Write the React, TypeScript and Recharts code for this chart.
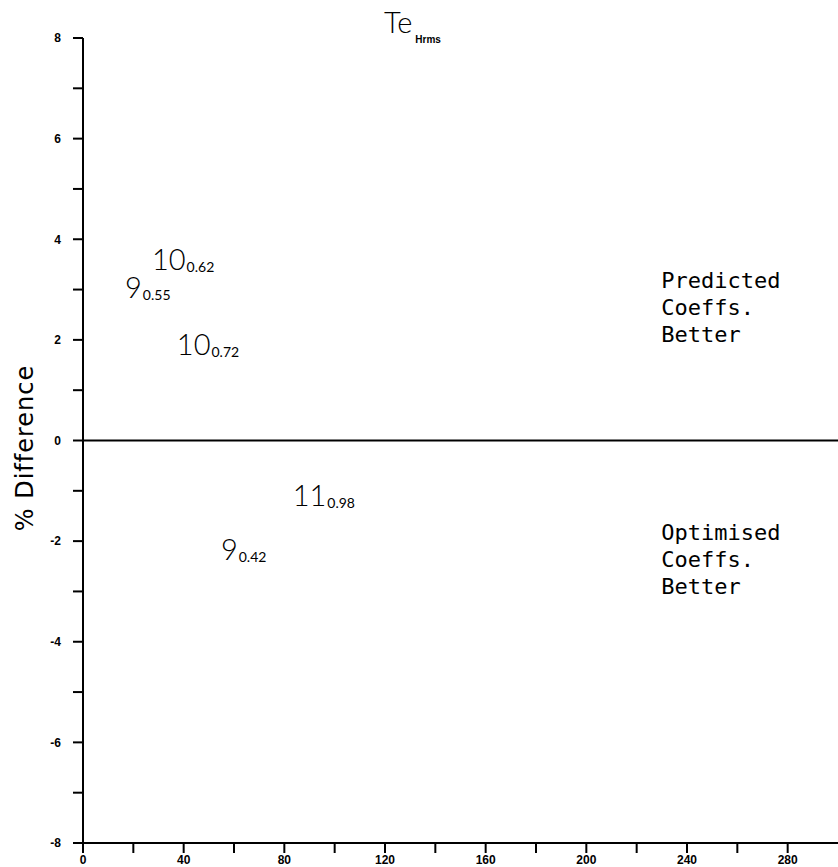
import { ScatterChart, Scatter, XAxis, YAxis, ReferenceLine } from "recharts";

// run labels with rho subscript, placed at their (x, % difference) position
const runNames = ["10", "9", "10", "11", "9"];
const rhoNames = ["0.62", "0.55", "0.72", "0.98", "0.42"];
const runX = [27.4, 16.7, 37.3, 83.3, 54.8];
const runY = [3.39, 2.83, 1.7, -1.31, -2.37];

// region notes
const noteLines = [
  ["Predicted", "Coeffs.", "Better"],
  ["Optimised", "Coeffs.", "Better"],
];
const noteX = [229.8, 229.8];
const noteY = [3.03, -1.98];

const xTicks = [0, 20, 40, 60, 80, 100, 120, 140, 160, 180, 200, 220, 240, 260, 280];
const yTicks = [-8, -7, -6, -5, -4, -3, -2, -1, 0, 1, 2, 3, 4, 5, 6, 7, 8];

const runs = runNames.map((n, i) => ({ x: runX[i], y: runY[i], name: n, sub: rhoNames[i] }));
const notes = noteLines.map((l, i) => ({ x: noteX[i], y: noteY[i], lines: l }));

const tickFont = { fontFamily: "'Liberation Sans', Arial, sans-serif", fontWeight: 700, fontSize: 12, fill: "#000" };

function RunLabel(props: any) {
  const { cx, cy, payload } = props;
  return (
    <text x={cx} y={cy} fill="#000" style={{ fontFamily: "Lato, sans-serif", fontWeight: 300 }}>
      <tspan fontSize={29}>{payload.name}</tspan>
      <tspan fontSize={14} fontWeight={400} dx={1} dy={2}>{payload.sub}</tspan>
    </text>
  );
}

function NoteLabel(props: any) {
  const { cx, cy, payload } = props;
  return (
    <text x={cx} y={cy} fill="#000" style={{ fontFamily: "'DejaVu Sans Mono', monospace", fontSize: 22 }}>
      {payload.lines.map((l: string, i: number) => (
        <tspan key={i} x={cx} dy={i === 0 ? 0 : 27}>{l}</tspan>
      ))}
    </text>
  );
}

export default function App() {
  return (
    <div style={{ position: "absolute", left: 0, top: 0, width: 838, height: 867, background: "#fff" }}>
      <ScatterChart width={838} height={867} margin={{ top: 38, right: 0, bottom: 0, left: 0 }}>
        <XAxis
          type="number"
          dataKey="x"
          domain={[0, 300]}
          ticks={xTicks}
          interval={0}
          tickFormatter={(v: number) => (v % 40 === 0 ? String(v) : "")}
          tick={tickFont}
          tickSize={10}
          tickMargin={2}
          height={24}
          axisLine={{ stroke: "#000", strokeWidth: 2 }}
          tickLine={{ stroke: "#000", strokeWidth: 2 }}
        />
        <YAxis
          type="number"
          dataKey="y"
          domain={[-8, 8]}
          ticks={yTicks}
          interval={0}
          tickFormatter={(v: number) => (v % 2 === 0 ? String(v) : "")}
          tick={tickFont}
          tickSize={10}
          tickMargin={12}
          width={83}
          axisLine={{ stroke: "#000", strokeWidth: 2 }}
          tickLine={{ stroke: "#000", strokeWidth: 2 }}
        />
        <ReferenceLine y={0} stroke="#000" strokeWidth={2} />
        <Scatter data={runs} shape={RunLabel} isAnimationActive={false} />
        <Scatter data={notes} shape={NoteLabel} isAnimationActive={false} />
      </ScatterChart>
      <svg width={838} height={867} style={{ position: "absolute", left: 0, top: 0, pointerEvents: "none" }}>
        <text x={384} y={33} fill="#000" style={{ fontFamily: "Lato, sans-serif", fontWeight: 300, fontSize: 29 }}>
          Te
          <tspan fontSize={10} fontWeight={700} fontFamily="'Liberation Sans', Arial, sans-serif" dx={3} dy={10}>Hrms</tspan>
        </text>
        <text
          transform="translate(33,448) rotate(-90)"
          textAnchor="middle"
          fill="#000"
          style={{ fontFamily: "'DejaVu Sans', sans-serif", fontWeight: 400, fontSize: 24, letterSpacing: 1 }}
        >
          % Difference
        </text>
      </svg>
    </div>
  );
}
